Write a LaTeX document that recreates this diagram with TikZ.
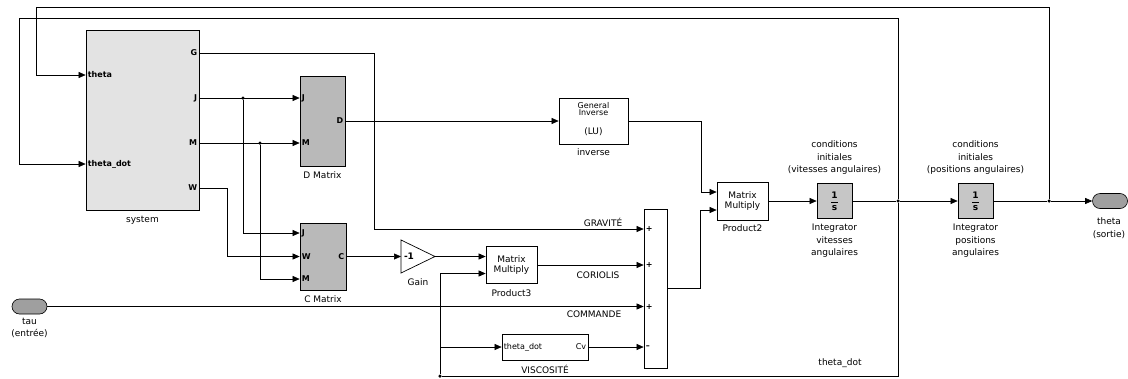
\documentclass[tikz,border=0pt]{standalone}
\usepackage{fontspec}
\setmainfont{DejaVu Sans}
\usetikzlibrary{arrows.meta}

\tikzset{
  bloc/.style={draw, line width=0.7pt, inner sep=0pt},
  sig/.style={line width=0.6pt, -{Triangle[length=7pt,width=6pt]}},
  fil/.style={line width=0.6pt},
  lab/.style={font=\fontsize{9}{12.5}\selectfont, align=center, inner sep=0pt},
  port/.style={font=\fontsize{8}{9}\selectfont\bfseries, inner sep=2pt},
  jonc/.style={circle, fill, inner sep=0pt, minimum size=3.5pt},
  oval/.style={draw, fill=gray!75, line width=0.6pt, minimum width=35pt, minimum height=15pt, rounded corners=7.5pt},
  integ/.style={bloc, fill=gray!45, minimum width=35pt, minimum height=35pt, font=\fontsize{9}{9}\selectfont\bfseries},
}

\begin{document}
\begin{tikzpicture}[x=1pt,y=-1pt]
\useasboundingbox (0,0) rectangle (1128,378);

%system
\node[bloc, fill=gray!22, minimum width=113pt, minimum height=180pt] (sys) at (142.5,120) {};
\node[lab] (sysl) at (142.5,220) {system};
\coordinate (sysTh) at (sys.west |- 0,75);
\coordinate (sysThd) at (sys.west |- 0,164);
\coordinate (sysG) at (sys.east |- 0,53);
\coordinate (sysJ) at (sys.east |- 0,98);
\coordinate (sysM) at (sys.east |- 0,143);
\coordinate (sysW) at (sys.east |- 0,188);
\node[port, anchor=west] at (sysTh) {theta};
\node[port, anchor=west] at (sysThd) {theta\_dot};
\node[port, anchor=east] at (sysG) {G};
\node[port, anchor=east] at (sysJ) {J};
\node[port, anchor=east] at (sysM) {M};
\node[port, anchor=east] at (sysW) {W};

%D Matrix
\node[bloc, fill=gray!55, minimum width=45pt, minimum height=90pt] (dmat) at (322.5,121) {};
\node[lab] (dmatl) at (322.5,175) {D Matrix};
\coordinate (dJ) at (dmat.west |- 0,98);
\coordinate (dM) at (dmat.west |- 0,143);
\coordinate (dD) at (dmat.east |- 0,121);
\node[port, anchor=west] at (dJ) {J};
\node[port, anchor=west] at (dM) {M};
\node[port, anchor=east] at (dD) {D};

%C Matrix
\node[bloc, fill=gray!55, minimum width=46pt, minimum height=67pt] (cmat) at (323,256.5) {};
\node[lab] (cmatl) at (323,299) {C Matrix};
\coordinate (cJ) at (cmat.west |- 0,233);
\coordinate (cW) at (cmat.west |- 0,256.5);
\coordinate (cM) at (cmat.west |- 0,279);
\coordinate (cC) at (cmat.east |- 0,256.5);
\node[port, anchor=west] at (cJ) {J};
\node[port, anchor=west] at (cW) {W};
\node[port, anchor=west] at (cM) {M};
\node[port, anchor=east] at (cC) {C};

%inverse
\node[bloc, fill=white, minimum width=69pt, minimum height=46pt] (inv) at (593.5,121) {};
\node[lab, font=\fontsize{8}{7.5}\selectfont] (invt) at (593.5,109) {General\\Inverse};
\node[lab] (invlu) at (593.5,132) {(LU)};
\node[lab] (invl) at (593.5,152) {inverse};

%Product2
\node[bloc, lab, minimum width=51pt, minimum height=38pt, font=\fontsize{9}{10.5}\selectfont] (p2) at (742.5,201) {Matrix\\Multiply};
\node[lab] (p2l) at (742.5,228) {Product2};
\coordinate (p2A) at (p2.west |- 0,192);
\coordinate (p2B) at (p2.west |- 0,210);

%integrateurs
\node[integ] (int1) at (834.5,201) {$\displaystyle\frac{\textbf{1}}{\textbf{s}}$};
\node[lab] (int1h) at (834.5,158) {conditions\\initiales\\(vitesses angulaires)};
\node[lab] (int1l) at (834.5,241) {Integrator\\vitesses\\angulaires};
\node[integ] (int2) at (975.5,201) {$\displaystyle\frac{\textbf{1}}{\textbf{s}}$};
\node[lab] (int2h) at (975.5,158) {conditions\\initiales\\(positions angulaires)};
\node[lab] (int2l) at (975.5,241) {Integrator\\positions\\angulaires};

%sorties / entrees
\node[oval] (thout) at (1110,201) {};
\node[lab] (thoutl) at (1109,228) {theta\\(sortie)};
\node[oval] (tau) at (29.5,306.5) {};
\node[lab] (taul) at (29.5,328) {tau\\(entrée)};

%Gain
\coordinate (gainIn) at (401,256.5);
\coordinate (gainOut) at (435,256.5);
\draw[line width=0.7pt] (401,240) -- (gainOut) -- (401,273) -- cycle;
\node[lab, font=\fontsize{9}{9}\selectfont\bfseries] (gaint) at (409,256.5) {-1};
\node[lab] (gainl) at (418,282) {Gain};

%Product3
\node[bloc, lab, minimum width=51pt, minimum height=37pt, font=\fontsize{9}{10.5}\selectfont] (p3) at (511.5,265) {Matrix\\Multiply};
\node[lab] (p3l) at (511.5,293) {Product3};
\coordinate (p3A) at (p3.west |- 0,256.5);
\coordinate (p3B) at (p3.west |- 0,273.5);

%VISCOSITE
\node[bloc, minimum width=86pt, minimum height=26pt] (visc) at (545,347) {};
\node[port, font=\fontsize{8}{9}\selectfont, anchor=west] at (visc.west) {theta\_dot};
\node[port, font=\fontsize{8}{9}\selectfont, anchor=east] at (visc.east) {Cv};
\node[lab] (viscl) at (545,369) {VISCOSITÉ};

%somme
\node[bloc, minimum width=23pt, minimum height=159pt] (sum) at (655.5,288.5) {};
\coordinate (sumA) at (sum.west |- 0,229);
\coordinate (sumB) at (sum.west |- 0,265);
\coordinate (sumC) at (sum.west |- 0,306.5);
\coordinate (sumD) at (sum.west |- 0,347);
\node[port, anchor=west] at (sumA) {+};
\node[port, anchor=west] at (sumB) {+};
\node[port, anchor=west] at (sumC) {+};
\node[port, anchor=west] at (sumD) {–};

%jonctions
\node[jonc] (j1) at (243,98) {};
\node[jonc] (j2) at (260,143) {};
\node[jonc] (jthd) at (898,201) {};
\node[jonc] (jth) at (1049,201) {};
\node[jonc] (j3) at (440,376) {};
\coordinate (br) at (440,347);

%liaisons
\draw[sig] (sysG) -| (374,229) -- (sumA);
\draw[sig] (sysJ) -- (dJ);
\draw[sig] (j1) |- (cJ);
\draw[sig] (sysM) -- (dM);
\draw[sig] (j2) |- (cM);
\draw[sig] (sysW) -| (227,256.5) -- (cW);
\draw[sig] (dD) -- (dD -| inv.west);
\draw[sig] (inv.east) -| (701,192) -- (p2A);
\draw[sig] (p2) -- (int1);
\draw[fil] (int1) -- (jthd);
\draw[sig] (jthd) -- (int2);
\draw[fil] (int2) -- (jth);
\draw[sig] (jth) -- (thout);
\draw[sig] (cC) -- (gainIn);
\draw[sig] (gainOut) -- (p3A);
\draw[sig] (p3) -- (sumB);
\draw[sig] (tau) -- (sumC);
\draw[sig] (visc) -- (sumD);
\draw[sig] (sum.east) -| (700,210) -- (p2B);

%retours
\draw[sig] (jth) -- (1049,7) -| (36,75) -- (sysTh);
\draw[sig] (jthd) -- (898,18) -| (19,164) -- (sysThd);
\draw[fil] (jthd) |- (j3);
\draw[sig] (j3) |- (p3B);
\draw[sig] (br) -- (visc);

%etiquettes
\node[lab] (grav) at (603,222) {GRAVITÉ};
\node[lab] (cor) at (598,275) {CORIOLIS};
\node[lab] (com) at (594,314) {COMMANDE};
\node[lab] (thd) at (840,363) {theta\_dot};
\end{tikzpicture}
\end{document}
